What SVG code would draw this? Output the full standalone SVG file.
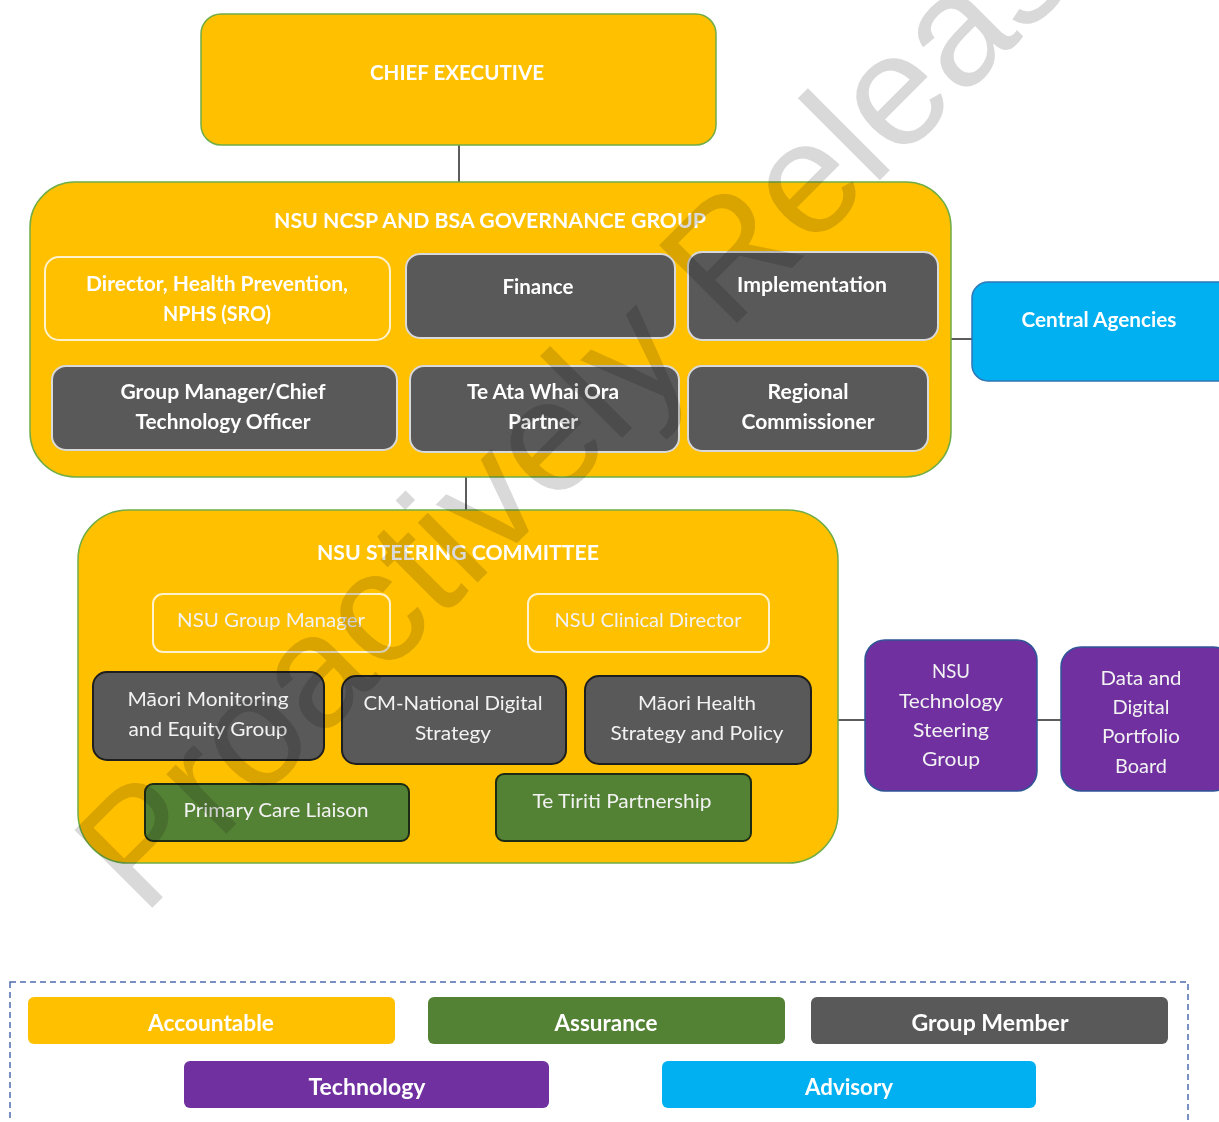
<svg xmlns="http://www.w3.org/2000/svg" width="1219" height="1122" viewBox="0 0 1219 1122">
  <style>
    .acc { fill: #FFC000; stroke: #70AD47; stroke-width: 1.5; }
    .acc-in { fill: #FFC000; stroke: #FFF2CC; stroke-width: 2; }
    .grp { fill: #595959; stroke: #D9D9D9; stroke-width: 2; }
    .grp-dk { fill: #595959; stroke: #1E1E1E; stroke-width: 2; }
    .asr { fill: #548235; stroke: #1E2B14; stroke-width: 2; }
    .tech { fill: #7030A0; stroke: #2F5597; stroke-width: 1.5; }
    .adv { fill: #00B0F0; stroke: #2E75B6; stroke-width: 1.5; }
    .conn { stroke: #262626; stroke-width: 1.5; fill: none; }
    text { font-family: Lato, "Open Sans", "Liberation Sans", sans-serif; fill: #FFFFFF; text-anchor: middle; }
    .title { font-size: 21px; font-weight: 700; }
    .b { font-size: 20px; font-weight: 700; }
    .r { font-size: 19.5px; font-weight: 400; fill: #F2F2F2; }
    .lg { font-size: 22px; font-weight: 700; }
    .wm { font-family: "Liberation Sans", Arial, sans-serif; font-size: 160px; fill: #D9D9D9; text-anchor: start; mix-blend-mode: multiply; }
  </style>

  <rect width="1219" height="1122" fill="#FFFFFF"/>

  <!-- connectors -->
  <g id="connectors">
    <line class="conn" x1="459" y1="145" x2="459" y2="182"/>
    <line class="conn" x1="466" y1="477" x2="466" y2="510"/>
    <line class="conn" x1="951" y1="339" x2="972" y2="339"/>
    <line class="conn" x1="838" y1="720" x2="865" y2="720"/>
    <line class="conn" x1="1037" y1="720" x2="1061" y2="720"/>
  </g>

  <!-- top level -->
  <g id="chief-executive">
    <rect class="acc" x="201" y="14" width="515" height="131" rx="20"/>
    <text class="title" x="457" y="80" textLength="174" lengthAdjust="spacingAndGlyphs">CHIEF EXECUTIVE</text>
  </g>

  <!-- governance group -->
  <g id="governance-group">
    <rect class="acc" x="30" y="182" width="921" height="295" rx="45"/>
    <text class="title" x="490" y="228" textLength="432" lengthAdjust="spacingAndGlyphs">NSU NCSP AND BSA GOVERNANCE GROUP</text>
  </g>
  <g id="director-health-prevention">
    <rect class="acc-in" x="45" y="257" width="345" height="83" rx="14"/>
    <text class="b" x="217" y="291" textLength="262" lengthAdjust="spacingAndGlyphs">Director, Health Prevention,</text>
    <text class="b" x="217" y="321" textLength="108" lengthAdjust="spacingAndGlyphs">NPHS (SRO)</text>
  </g>
  <g id="finance">
    <rect class="grp" x="406" y="254" width="269" height="84" rx="14"/>
    <text class="b" x="538" y="294" textLength="71" lengthAdjust="spacingAndGlyphs">Finance</text>
  </g>
  <g id="implementation">
    <rect class="grp" x="688" y="252" width="250" height="88" rx="14"/>
    <text class="b" x="812" y="292" textLength="150" lengthAdjust="spacingAndGlyphs">Implementation</text>
  </g>
  <g id="group-manager-cto">
    <rect class="grp" x="52" y="366" width="345" height="84" rx="14"/>
    <text class="b" x="223" y="399" textLength="205" lengthAdjust="spacingAndGlyphs">Group Manager/Chief</text>
    <text class="b" x="223" y="429" textLength="175" lengthAdjust="spacingAndGlyphs">Technology Officer</text>
  </g>
  <g id="te-ata-whai-ora">
    <rect class="grp" x="410" y="366" width="269" height="86" rx="14"/>
    <text class="b" x="543" y="399" textLength="152" lengthAdjust="spacingAndGlyphs">Te Ata Whai Ora</text>
    <text class="b" x="543" y="429" textLength="70" lengthAdjust="spacingAndGlyphs">Partner</text>
  </g>
  <g id="regional-commissioner">
    <rect class="grp" x="688" y="366" width="240" height="85" rx="14"/>
    <text class="b" x="808" y="399" textLength="81" lengthAdjust="spacingAndGlyphs">Regional</text>
    <text class="b" x="808" y="429" textLength="133" lengthAdjust="spacingAndGlyphs">Commissioner</text>
  </g>
  <g id="central-agencies">
    <rect class="adv" x="972" y="282" width="262" height="99" rx="16"/>
    <text class="b" x="1099" y="327" textLength="155" lengthAdjust="spacingAndGlyphs">Central Agencies</text>
  </g>

  <!-- steering committee -->
  <g id="steering-committee">
    <rect class="acc" x="78" y="510" width="760" height="353" rx="50"/>
    <text class="title" x="458" y="560" textLength="282" lengthAdjust="spacingAndGlyphs">NSU STEERING COMMITTEE</text>
  </g>
  <g id="nsu-group-manager">
    <rect class="acc-in" x="153" y="594" width="237" height="58" rx="10"/>
    <text class="r" x="271" y="627" textLength="188" lengthAdjust="spacingAndGlyphs">NSU Group Manager</text>
  </g>
  <g id="nsu-clinical-director">
    <rect class="acc-in" x="528" y="594" width="241" height="58" rx="10"/>
    <text class="r" x="648" y="627" textLength="187" lengthAdjust="spacingAndGlyphs">NSU Clinical Director</text>
  </g>
  <g id="maori-monitoring">
    <rect class="grp-dk" x="93" y="672" width="231" height="88" rx="14"/>
    <text class="r" x="208" y="706" textLength="161" lengthAdjust="spacingAndGlyphs">Māori Monitoring</text>
    <text class="r" x="208" y="736" textLength="159" lengthAdjust="spacingAndGlyphs">and Equity Group</text>
  </g>
  <g id="cm-national-digital">
    <rect class="grp-dk" x="342" y="676" width="224" height="88" rx="14"/>
    <text class="r" x="453" y="710" textLength="179" lengthAdjust="spacingAndGlyphs">CM-National Digital</text>
    <text class="r" x="453" y="740" textLength="76" lengthAdjust="spacingAndGlyphs">Strategy</text>
  </g>
  <g id="maori-health-strategy">
    <rect class="grp-dk" x="585" y="676" width="226" height="88" rx="14"/>
    <text class="r" x="697" y="710" textLength="118" lengthAdjust="spacingAndGlyphs">Māori Health</text>
    <text class="r" x="697" y="740" textLength="173" lengthAdjust="spacingAndGlyphs">Strategy and Policy</text>
  </g>
  <g id="primary-care-liaison">
    <rect class="asr" x="145" y="784" width="264" height="57" rx="8"/>
    <text class="r" x="276" y="817" textLength="185" lengthAdjust="spacingAndGlyphs">Primary Care Liaison</text>
  </g>
  <g id="te-tiriti-partnership">
    <rect class="asr" x="496" y="774" width="255" height="67" rx="8"/>
    <text class="r" x="622" y="808" textLength="179" lengthAdjust="spacingAndGlyphs">Te Tiriti Partnership</text>
  </g>

  <!-- technology chain -->
  <g id="nsu-technology-steering">
    <rect class="tech" x="865" y="640" width="172" height="151" rx="20"/>
    <text class="r" x="951" y="678" textLength="38" lengthAdjust="spacingAndGlyphs">NSU</text>
    <text class="r" x="951" y="708" textLength="104" lengthAdjust="spacingAndGlyphs">Technology</text>
    <text class="r" x="951" y="737" textLength="76" lengthAdjust="spacingAndGlyphs">Steering</text>
    <text class="r" x="951" y="766" textLength="58" lengthAdjust="spacingAndGlyphs">Group</text>
  </g>
  <g id="data-digital-portfolio">
    <rect class="tech" x="1061" y="647" width="172" height="144" rx="20"/>
    <text class="r" x="1141" y="685" textLength="81" lengthAdjust="spacingAndGlyphs">Data and</text>
    <text class="r" x="1141" y="714" textLength="57" lengthAdjust="spacingAndGlyphs">Digital</text>
    <text class="r" x="1141" y="743" textLength="78" lengthAdjust="spacingAndGlyphs">Portfolio</text>
    <text class="r" x="1141" y="773" textLength="52" lengthAdjust="spacingAndGlyphs">Board</text>
  </g>

  <!-- key -->
  <g id="legend">
    <rect x="10" y="982" width="1178" height="170" fill="none" stroke="#4F6BAF" stroke-width="1.5" stroke-dasharray="6 4"/>
    <rect x="28" y="997" width="367" height="47" rx="6" fill="#FFC000"/>
    <text class="lg" x="211" y="1031" textLength="126" lengthAdjust="spacingAndGlyphs">Accountable</text>
    <rect x="428" y="997" width="357" height="47" rx="6" fill="#548235"/>
    <text class="lg" x="606" y="1031" textLength="103" lengthAdjust="spacingAndGlyphs">Assurance</text>
    <rect x="811" y="997" width="357" height="47" rx="6" fill="#595959"/>
    <text class="lg" x="990" y="1031" textLength="157" lengthAdjust="spacingAndGlyphs">Group Member</text>
    <rect x="184" y="1061" width="365" height="47" rx="6" fill="#7030A0"/>
    <text class="lg" x="367" y="1095" textLength="117" lengthAdjust="spacingAndGlyphs">Technology</text>
    <rect x="662" y="1061" width="374" height="47" rx="6" fill="#00B0F0"/>
    <text class="lg" x="849" y="1095" textLength="88" lengthAdjust="spacingAndGlyphs">Advisory</text>
  </g>

  <!-- release stamp across the page -->
  <text class="wm" transform="translate(143,917) rotate(-45)">Proactively Released</text>
</svg>
